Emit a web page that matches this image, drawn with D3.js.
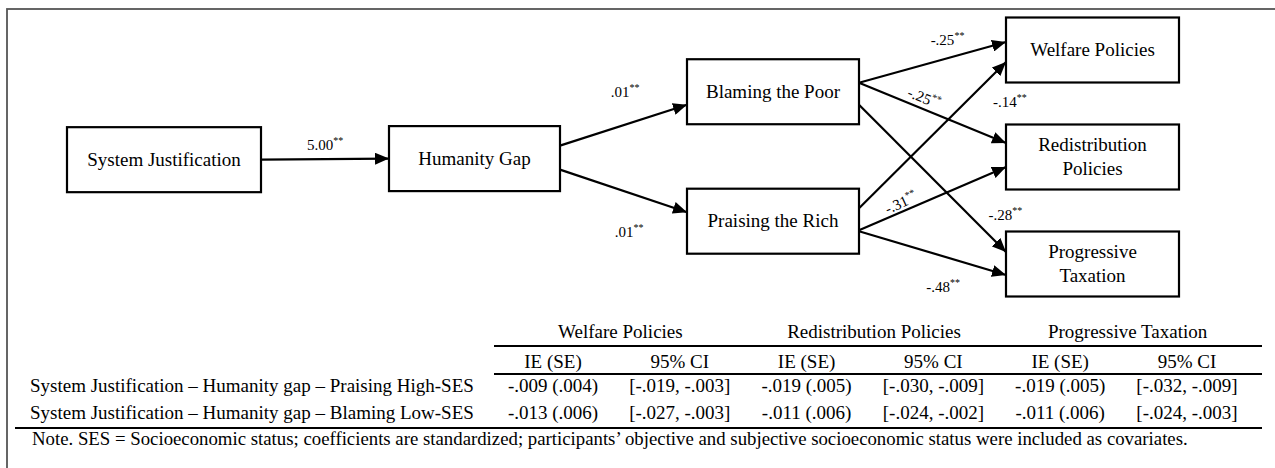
<!DOCTYPE html>
<html>
<head>
<meta charset="utf-8">
<script src="https://cdn.jsdelivr.net/npm/d3@7/dist/d3.min.js"></script>
<style>
  html, body { margin: 0; padding: 0; background: #fff; }
  svg { display: block; }
  text { font-family: "Liberation Serif", "Times New Roman", Times, serif; fill: #000; }
</style>
</head>
<body>
<svg id="chart" width="1275" height="468"></svg>
<script>
// ---------------- DATA ----------------
const nodeNames = ["System Justification", "Humanity Gap", "Blaming the Poor", "Praising the Rich",
                   "Welfare Policies", "Redistribution Policies", "Progressive Taxation"];
const nodeLines = [["System Justification"], ["Humanity Gap"], ["Blaming the Poor"], ["Praising the Rich"],
                   ["Welfare Policies"], ["Redistribution", "Policies"], ["Progressive", "Taxation"]];
const edgeFrom = ["System Justification", "Humanity Gap", "Humanity Gap",
                  "Blaming the Poor", "Blaming the Poor", "Blaming the Poor",
                  "Praising the Rich", "Praising the Rich", "Praising the Rich"];
const edgeTo = ["Humanity Gap", "Blaming the Poor", "Praising the Rich",
                "Welfare Policies", "Redistribution Policies", "Progressive Taxation",
                "Welfare Policies", "Redistribution Policies", "Progressive Taxation"];
const edgeCoef = ["5.00", ".01", ".01", "-.25", "-.25", "-.28", "-.14", "-.31", "-.48"];
const edgeSig = ["**", "**", "**", "**", "**", "**", "**", "**", "**"];

const outcomeGroups = ["Welfare Policies", "Redistribution Policies", "Progressive Taxation"];
const subHeaders = ["IE (SE)", "95% CI"];
const rowLabels = ["System Justification \u2013 Humanity gap \u2013 Praising High-SES",
                   "System Justification \u2013 Humanity gap \u2013 Blaming Low-SES"];
const rowPraising = ["-.009 (.004)", "[-.019, -.003]", "-.019 (.005)", "[-.030, -.009]", "-.019 (.005)", "[-.032, -.009]"];
const rowBlaming  = ["-.013 (.006)", "[-.027, -.003]", "-.011 (.006)", "[-.024, -.002]", "-.011 (.006)", "[-.024, -.003]"];
const noteText = "Note. SES = Socioeconomic status; coefficients are standardized; participants\u2019 objective and subjective socioeconomic status were included as covariates.";

// ---------------- LAYOUT ----------------
const svg = d3.select("#chart");
const FONT = 19;

// outer frame
svg.append("rect").attr("x", 7).attr("y", 9).attr("width", 1320).attr("height", 520)
  .attr("fill", "none").attr("stroke", "#555").attr("stroke-width", 1.8);

// stage (column) scale -> box left edge; level scale -> box centre y
const stage = {"System Justification": 0, "Humanity Gap": 1, "Blaming the Poor": 2, "Praising the Rich": 2,
               "Welfare Policies": 3, "Redistribution Policies": 3, "Progressive Taxation": 3};
const level = {"System Justification": 0.05, "Humanity Gap": 0.03, "Blaming the Poor": -1.22, "Praising the Rich": 1.2,
               "Welfare Policies": -2, "Redistribution Policies": 0, "Progressive Taxation": 2};
const xLeft = d3.scaleOrdinal().domain([0, 1, 2, 3]).range([67, 389, 687, 1006]);
const xWidth = d3.scaleOrdinal().domain([0, 1, 2, 3]).range([194, 171, 172, 173]);
const yMid = d3.scaleLinear().domain([-2, 2]).range([50, 264]);
const boxH = 65;

const box = {};
nodeNames.forEach(n => {
  const s = stage[n];
  const x0 = xLeft(s), w = xWidth(s), cy = yMid(level[n]);
  box[n] = {x0, x1: x0 + w, cx: x0 + w / 2, cy, y0: cy - boxH / 2, y1: cy + boxH / 2};
});

// arrow marker
svg.append("defs").append("marker")
  .attr("id", "arrow").attr("markerUnits", "userSpaceOnUse")
  .attr("viewBox", "0 0 14 12").attr("refX", 14).attr("refY", 6)
  .attr("markerWidth", 14).attr("markerHeight", 12).attr("orient", "auto")
  .append("path").attr("d", "M0,0 L14,6 L0,12 Z").attr("fill", "#000");

// port offsets (source y offset, target y offset) relative to box centres
const srcOff = [0, -13, 11, -9, -9, 13, -13, 9, 10];
const tgtOff = [0, 13, -9, -8, -14, -12, 12, 10, 11];

const edges = edgeFrom.map((f, i) => {
  const a = box[f], b = box[edgeTo[i]];
  return {x1: a.x1, y1: a.cy + srcOff[i], x2: b.x0, y2: b.cy + tgtOff[i], coef: edgeCoef[i], sig: edgeSig[i]};
});

svg.append("g").selectAll("line").data(edges).join("line")
  .attr("x1", d => d.x1).attr("y1", d => d.y1)
  .attr("x2", d => d.x2).attr("y2", d => d.y2)
  .attr("stroke", "#000").attr("stroke-width", 2.2)
  .attr("marker-end", "url(#arrow)");

// boxes
const gBox = svg.append("g").selectAll("g").data(nodeNames).join("g");
gBox.append("rect")
  .attr("x", n => box[n].x0).attr("y", n => box[n].y0)
  .attr("width", n => box[n].x1 - box[n].x0).attr("height", boxH)
  .attr("fill", "#fff").attr("stroke", "#000").attr("stroke-width", 2.2);
gBox.each(function(n, i) {
  const lines = nodeLines[i];
  const b = box[n];
  const lh = 23.5;
  d3.select(this).selectAll("text").data(lines).join("text")
    .attr("x", b.cx)
    .attr("y", (l, j) => b.cy + 6 + (j - (lines.length - 1) / 2) * lh)
    .attr("text-anchor", "middle").attr("font-size", FONT)
    .text(l => l);
});

// coefficient labels: anchor position relative to the edge (fraction along, dx, dy, rotation)
const labelPos = [
  {t: 0.5, dx: 0, dy: -9, rot: 0},
  {t: 0.5, dx: 1.5, dy: -28.5, rot: 0},
  {t: 0.5, dx: 5.5, dy: 46, rot: 0},
  {t: 0.5, dx: 15, dy: -17.5, rot: 0},
  {t: 0.43, dx: 0, dy: -6, rot: 22},
  {t: 0.88, dx: 17, dy: -14, rot: 0},
  {t: 0.91, dx: 17, dy: 32, rot: 0},
  {t: 0.3, dx: 0, dy: -4, rot: -25},
  {t: 0.45, dx: 18, dy: 41, rot: 0}
];
const gLab = svg.append("g").selectAll("text").data(edges).join("text")
  .attr("font-size", 15)
  .attr("transform", (d, i) => {
    const p = labelPos[i];
    const x = d.x1 + (d.x2 - d.x1) * p.t + p.dx;
    const y = d.y1 + (d.y2 - d.y1) * p.t + p.dy;
    return `translate(${x},${y}) rotate(${p.rot})`;
  })
  .attr("text-anchor", "middle");
gLab.append("tspan").text(d => d.coef);
gLab.append("tspan").attr("dy", -6).attr("font-size", 10).text(d => d.sig);

// ---------------- TABLE ----------------
const colX = d3.scalePoint().domain(d3.range(6)).range([553, 1187]);
const tableL = 494, tableR = 1262;
const yHead = 338, yLine1 = 346, ySub = 368, yLine2 = 374, yLine3 = 428, yNote = 445;
const rowY = d3.scalePoint().domain([0, 1]).range([392, 419]);

const gT = svg.append("g");
gT.selectAll(".grp").data(outcomeGroups).join("text")
  .attr("class", "grp")
  .attr("x", (g, i) => (colX(2 * i) + colX(2 * i + 1)) / 2 + 4)
  .attr("y", yHead).attr("text-anchor", "middle").attr("font-size", FONT).text(g => g);

gT.selectAll(".sub").data(d3.range(6)).join("text")
  .attr("class", "sub")
  .attr("x", i => colX(i)).attr("y", ySub)
  .attr("text-anchor", "middle").attr("font-size", FONT)
  .text(i => subHeaders[i % 2]);

[rowPraising, rowBlaming].forEach((vals, r) => {
  gT.append("text").attr("x", 30).attr("y", rowY(r)).attr("font-size", FONT).text(rowLabels[r]);
  gT.append("g").selectAll("text").data(vals).join("text")
    .attr("x", (v, i) => colX(i)).attr("y", rowY(r))
    .attr("text-anchor", "middle").attr("font-size", FONT).text(v => v);
});

gT.append("line").attr("x1", tableL).attr("x2", tableR).attr("y1", yLine1).attr("y2", yLine1)
  .attr("stroke", "#000").attr("stroke-width", 2.2);
gT.append("line").attr("x1", tableL).attr("x2", tableR).attr("y1", yLine2).attr("y2", yLine2)
  .attr("stroke", "#000").attr("stroke-width", 2.2);
gT.append("line").attr("x1", 15).attr("x2", tableR).attr("y1", yLine3).attr("y2", yLine3)
  .attr("stroke", "#000").attr("stroke-width", 2.2);

gT.append("text").attr("x", 32).attr("y", yNote).attr("font-size", 18.8).text(noteText);
</script>
</body>
</html>
